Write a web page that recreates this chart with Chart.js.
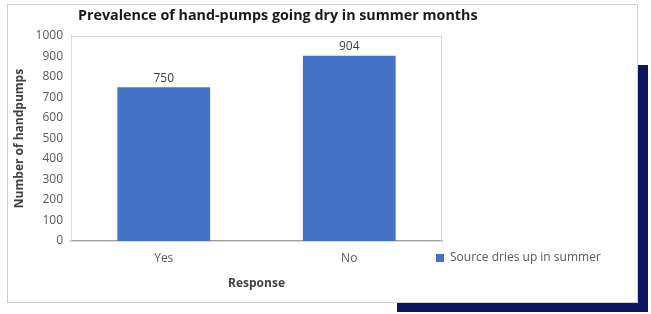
<!DOCTYPE html>
<html>
<head>
<meta charset="utf-8">
<script src="https://cdn.jsdelivr.net/npm/chart.js@4"></script>
<style>
body { margin: 0; background: #fff; width: 651px; height: 314px; overflow: hidden; position: relative; }
#navy { position: absolute; left: 397px; top: 65px; width: 251px; height: 247px; background: #0b1561; }
#box { position: absolute; left: 7px; top: 4px; width: 631px; height: 299px; box-sizing: border-box; border: 1px solid #d0d0d0; background: #fff; }
#box canvas { position: absolute; left: 0; top: 0; }
</style>
</head>
<body>
<div id="navy"></div>
<div id="box"><canvas id="pumpChart" width="629" height="297"></canvas></div>
<script>
var categories = ["Yes", "No"];
var pumpCounts = [750, 904];
var seriesName = "Source dries up in summer";
var yTicks = [0, 100, 200, 300, 400, 500, 600, 700, 800, 900, 1000];

var fontFamily = "'Open Sans', sans-serif";

// plot-area frame, value labels and placement of title/legend
var framePlugin = {
	id: "frame",
	afterLayout: function(chart){
		chart.titleBlock.left = 70;
		chart.titleBlock.right = 629;
		var lg = chart.legend;
		lg.left = 428;
		lg.right = 428 + 180;
		lg.top = 247;
		lg.bottom = 262;
	},
	beforeDatasetsDraw: function(chart){
		var a = chart.chartArea, ctx = chart.ctx;
		ctx.save();
		ctx.strokeStyle = "#d9d9d9";
		ctx.lineWidth = 1;
		ctx.strokeRect(a.left + 0.5, a.top + 0.5, a.right - a.left - 1, a.bottom - a.top);
		ctx.restore();
	},
	afterDatasetsDraw: function(chart){
		var ctx = chart.ctx;
		var meta = chart.getDatasetMeta(0);
		ctx.save();
		ctx.font = "12px " + fontFamily;
		ctx.fillStyle = "#404040";
		ctx.textAlign = "center";
		ctx.textBaseline = "middle";
		meta.data.forEach(function(bar, i){
			ctx.fillText(chart.data.datasets[0].data[i], bar.x, bar.y - 9);
		});
		ctx.restore();
	}
};

var ctx = document.getElementById("pumpChart").getContext("2d");
var chart = new Chart(ctx, {
	type: "bar",
	data: {
		labels: categories,
		datasets: [{
			label: seriesName,
			data: pumpCounts,
			backgroundColor: "#4472c4",
			borderWidth: 0,
			barPercentage: 1,
			categoryPercentage: 0.5
		}]
	},
	options: {
		responsive: false,
		animation: false,
		layout: { padding: { left: 0, right: 195, top: 0, bottom: 0 } },
		plugins: {
			title: {
				display: true,
				text: "Prevalence of hand-pumps going dry in summer months",
				align: "start",
				color: "#1a1a1a",
				font: { family: fontFamily, size: 14.3, weight: "bold" },
				padding: { top: 2.4, bottom: 11.4 }
			},
			legend: {
				position: "chartArea",
				align: "start",
				labels: {
					boxWidth: 8,
					boxHeight: 8,
					padding: 0,
					color: "#595959",
					font: { family: fontFamily, size: 12 }
				}
			},
			tooltip: { enabled: false }
		},
		scales: {
			x: {
				grid: { display: false, drawTicks: false },
				border: { display: true, color: "#a0a0a0", width: 1.5 },
				ticks: { color: "#595959", font: { family: fontFamily, size: 12 }, padding: 10 },
				title: {
					display: true,
					text: "Response",
					color: "#404040",
					font: { family: fontFamily, size: 12, weight: "bold" },
					padding: { top: 0, bottom: 10.8 }
				},
				afterFit: function(scale){ scale.height = 61; }
			},
			y: {
				min: 0,
				max: 1000,
				afterBuildTicks: function(scale){
					scale.ticks = yTicks.map(function(v){ return { value: v }; });
				},
				grid: { display: false, drawTicks: false },
				border: { display: true, color: "#d9d9d9", width: 1 },
				ticks: {
					color: "#595959",
					font: { family: fontFamily, size: 12 },
					padding: 8,
					callback: function(v){ return String(v); }
				},
				title: {
					display: true,
					text: "Number of handpumps",
					color: "#404040",
					font: { family: fontFamily, size: 12, weight: "bold" },
					padding: { top: 4, bottom: 0 }
				},
				afterFit: function(scale){ scale.width = 63; }
			}
		}
	},
	plugins: [framePlugin]
});
</script>
</body>
</html>
